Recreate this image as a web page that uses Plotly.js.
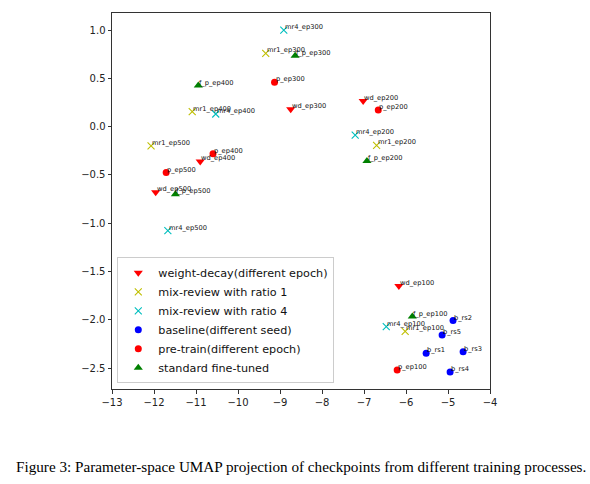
<!DOCTYPE html>
<html>
<head>
<meta charset="utf-8">
<script src="https://cdn.plot.ly/plotly-3.0.1.min.js"></script>
<style>
html,body{margin:0;padding:0;background:#fff;}
#chart{width:590px;height:484px;}
</style>
</head>
<body>
<div id="chart"></div>
<script>
// weight-decay (different epoch)
const wdLabels = ["wd_ep100","wd_ep200","wd_ep300","wd_ep400","wd_ep500"];
const wdX = [-6.17,-7.02,-8.745,-10.90,-11.96];
const wdY = [-1.651,0.266,0.180,-0.360,-0.680];
// mix-review with ratio 1
const mr1Labels = ["mr1_ep100","mr1_ep200","mr1_ep300","mr1_ep400","mr1_ep500"];
const mr1X = [-6.02,-6.70,-9.34,-11.09,-12.07];
const mr1Y = [-2.120,-0.194,0.758,0.156,-0.200];
// mix-review with ratio 4
const mr4Labels = ["mr4_ep100","mr4_ep200","mr4_ep300","mr4_ep400","mr4_ep500"];
const mr4X = [-6.47,-7.21,-8.91,-10.53,-11.67];
const mr4Y = [-2.070,-0.087,1.000,0.131,-1.077];
// baseline (different seed)
const bLabels = ["b_rs1","b_rs2","b_rs3","b_rs4","b_rs5"];
const bX = [-5.52,-4.88,-4.64,-4.95,-5.14];
const bY = [-2.347,-2.008,-2.330,-2.540,-2.157];
// pre-train (different epoch)
const pLabels = ["p_ep100","p_ep200","p_ep300","p_ep400","p_ep500"];
const pX = [-6.21,-6.66,-9.13,-10.595,-11.71];
const pY = [-2.520,0.172,0.460,-0.280,-0.475];
// standard fine-tuned
const fLabels = ["f_p_ep100","f_p_ep200","f_p_ep300","f_p_ep400","f_p_ep500"];
const fX = [-5.85,-6.93,-8.64,-10.945,-11.49];
const fY = [-1.967,-0.357,0.733,0.426,-0.700];

const xTicks = [-13,-12,-11,-10,-9,-8,-7,-6,-5,-4];
const yTicks = [-2.5,-2.0,-1.5,-1.0,-0.5,0.0,0.5,1.0];
const caption = "Figure 3: Parameter-space UMAP projection of checkpoints from different training processes.";

const series = [
  {name:"weight-decay(different epoch)", x:wdX, y:wdY, labels:wdLabels, marker:{symbol:"triangle-down", size:8, color:"#ff0000"}},
  {name:"mix-review with ratio 1", x:mr1X, y:mr1Y, labels:mr1Labels, marker:{symbol:"x-thin-open", size:7, color:"#bfbf00", line:{width:1.1, color:"#bfbf00"}}},
  {name:"mix-review with ratio 4", x:mr4X, y:mr4Y, labels:mr4Labels, marker:{symbol:"x-thin-open", size:7, color:"#00bfbf", line:{width:1.1, color:"#00bfbf"}}},
  {name:"baseline(different seed)", x:bX, y:bY, labels:bLabels, marker:{symbol:"circle", size:7, color:"#0000ff"}},
  {name:"pre-train(different epoch)", x:pX, y:pY, labels:pLabels, marker:{symbol:"circle", size:7, color:"#ff0000"}},
  {name:"standard fine-tuned", x:fX, y:fY, labels:fLabels, marker:{symbol:"triangle-up", size:8, color:"#008000"}}
];

const traces = series.map(s => ({
  type:"scatter", mode:"markers", name:s.name, x:s.x, y:s.y,
  marker:s.marker, hoverinfo:"skip", cliponaxis:false
}));

const T = 13, B = 95, H = 484;
const plotH = H - T - B;

const annotations = [];
series.forEach(s => {
  s.labels.forEach((lab, i) => {
    annotations.push({
      x:s.x[i], y:s.y[i], xref:"x", yref:"y", text:lab, showarrow:false,
      xanchor:"left", yanchor:"bottom", xshift:0, yshift:-2, borderpad:0,
      font:{family:"DejaVu Sans", size:6.7, color:"#111"}
    });
  });
});
annotations.push({
  x:0.5, y:(H - B - 466) / plotH, xref:"paper", yref:"paper", text:caption, showarrow:false,
  font:{family:"Liberation Serif, Times New Roman, serif", size:15.2, color:"#000"},
  xanchor:"center", yanchor:"middle"
});

const layout = {
  width:590, height:484,
  margin:{l:112, r:100, t:T, b:B, pad:0},
  paper_bgcolor:"#fff", plot_bgcolor:"#fff",
  font:{family:"DejaVu Sans", color:"#222"},
  showlegend:true,
  legend:{
    x:0.014, y:0.015, xanchor:"left", yanchor:"bottom",
    bgcolor:"rgba(255,255,255,0.85)", bordercolor:"#cccccc", borderwidth:1,
    font:{family:"DejaVu Sans", size:11.2, color:"#111"},
    itemwidth:30, tracegroupgap:0
  },
  xaxis:{
    range:[-13,-4], tickvals:xTicks, ticktext:xTicks.map(v=>String(v).replace("-","\u2212")),
    showgrid:false, zeroline:false, showline:true, mirror:true,
    linecolor:"#333", linewidth:1, ticks:"outside", ticklen:3.5, tickwidth:1, tickcolor:"#333",
    tickfont:{family:"DejaVu Sans", size:10, color:"#222"}
  },
  yaxis:{
    range:[-2.717,1.177], tickvals:yTicks, ticktext:yTicks.map(v=>v.toFixed(1).replace("-","\u2212")),
    showgrid:false, zeroline:false, showline:true, mirror:true,
    linecolor:"#333", linewidth:1, ticks:"outside", ticklen:3.5, tickwidth:1, tickcolor:"#333",
    tickfont:{family:"DejaVu Sans", size:10, color:"#222"}
  },
  annotations:annotations
};

Plotly.newPlot("chart", traces, layout, {staticPlot:true, displayModeBar:false});
</script>
</body>
</html>
